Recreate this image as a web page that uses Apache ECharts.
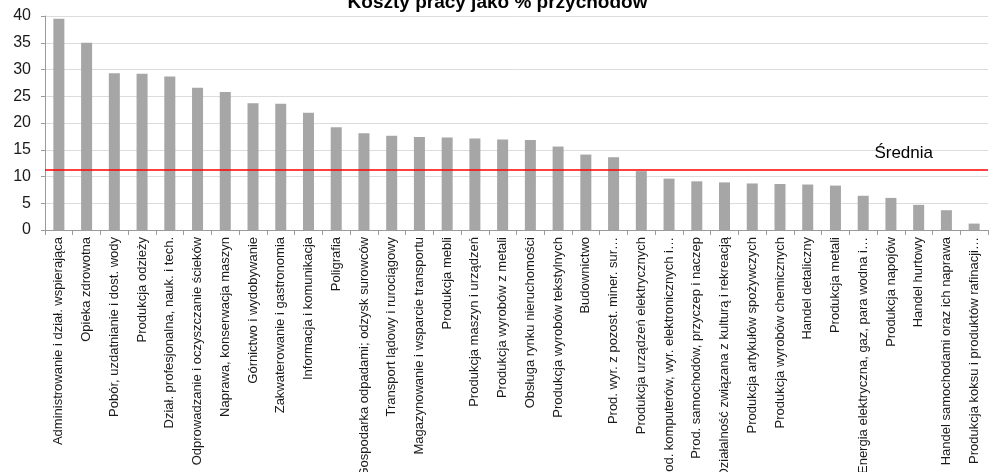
<!DOCTYPE html>
<html>
<head>
<meta charset="utf-8">
<script src="https://cdn.jsdelivr.net/npm/echarts@6/dist/echarts.min.js"></script>
<style>
html,body{margin:0;padding:0;background:#fff;}
#chart{width:995px;height:472px;}
</style>
</head>
<body>
<div id="chart"></div>
<script>
const titleText = 'Koszty pracy jako % przychodów';
const categories = [
  'Administrowanie i dział. wspierająca',
  'Opieka zdrowotna',
  'Pobór, uzdatnianie i dost. wody',
  'Produkcja odzieży',
  'Dział. profesjonalna, nauk. i tech.',
  'Odprowadzanie i oczyszczanie ścieków',
  'Naprawa, konserwacja maszyn',
  'Górnictwo i wydobywanie',
  'Zakwaterowanie i gastronomia',
  'Informacja i komunikacja',
  'Poligrafia',
  'Gospodarka odpadami; odzysk surowców',
  'Transport lądowy i rurociągowy',
  'Magazynowanie i wsparcie transportu',
  'Produkcja mebli',
  'Produkcja maszyn i urządzeń',
  'Produkcja wyrobów z metali',
  'Obsługa rynku nieruchomości',
  'Produkcja wyrobów tekstylnych',
  'Budownictwo',
  'Prod. wyr. z pozost. miner. sur…',
  'Produkcja urządzeń elektrycznych',
  'Prod. komputerów, wyr. elektronicznych i…',
  'Prod. samochodów, przyczep i naczep',
  'Działalność związana z kulturą i rekreacją',
  'Produkcja artykułów spożywczych',
  'Produkcja wyrobów chemicznych',
  'Handel detaliczny',
  'Produkcja metali',
  'Energia elektryczna, gaz, para wodna i…',
  'Produkcja napojów',
  'Handel hurtowy',
  'Handel samochodami oraz ich naprawa',
  'Produkcja koksu i produktów rafinacji…'
];
const values = [39.5, 35.0, 29.3, 29.2, 28.7, 26.6, 25.8, 23.7, 23.6, 21.9,
  19.2, 18.1, 17.6, 17.4, 17.3, 17.1, 16.9, 16.8, 15.6, 14.1,
  13.6, 11.0, 9.6, 9.1, 8.9, 8.7, 8.6, 8.5, 8.3, 6.4,
  6.0, 4.7, 3.7, 1.2];
const averageValue = 11.3;
const averageLabel = 'Średnia';
const yMin = 0, yMax = 40, yInterval = 5;

const chart = echarts.init(document.getElementById('chart'), null, {renderer: 'canvas'});
const FONT = '"Liberation Sans", Arial, sans-serif';
chart.setOption({
  animation: false,
  backgroundColor: '#ffffff',
  title: {
    text: titleText,
    left: 'center',
    top: -7,
    padding: 0,
    textStyle: {fontFamily: FONT, fontSize: 19, fontWeight: 'bold', color: '#000'}
  },
  grid: {left: 45, right: 7, top: 16, bottom: 242, containLabel: false, outerBoundsMode: 'none'},
  xAxis: {
    type: 'category',
    data: categories,
    boundaryGap: true,
    axisLine: {lineStyle: {color: '#9a9a9a', width: 1}},
    axisTick: {show: true, length: 5, lineStyle: {color: '#9a9a9a'}},
    axisLabel: {
      rotate: 90, interval: 0, margin: 7,
      fontFamily: FONT, fontSize: 13, color: '#1a1a1a'
    },
    splitLine: {show: false}
  },
  yAxis: {
    type: 'value',
    min: yMin, max: yMax, interval: yInterval,
    axisLine: {show: true, lineStyle: {color: '#9a9a9a', width: 1}},
    axisTick: {show: true, length: 4, lineStyle: {color: '#9a9a9a'}},
    axisLabel: {fontFamily: FONT, fontSize: 16, color: '#1a1a1a', margin: 14},
    splitLine: {show: true, lineStyle: {color: '#dcdcdc', width: 1}}
  },
  series: [{
    type: 'bar',
    data: values,
    barWidth: 11,
    itemStyle: {color: '#a6a6a6'},
    markLine: {
      silent: true,
      symbol: ['none', 'none'],
      lineStyle: {color: '#ff0000', width: 1.5, type: 'solid', opacity: 1},
      emphasis: {disabled: true},
      label: {
        show: true,
        position: 'insideEndTop',
        formatter: averageLabel,
        fontFamily: FONT, fontSize: 17, color: '#000',
        distance: [55, 8]
      },
      data: [{yAxis: averageValue, lineStyle: {color: '#ff0000'}}]
    }
  }]
});
</script>
</body>
</html>
